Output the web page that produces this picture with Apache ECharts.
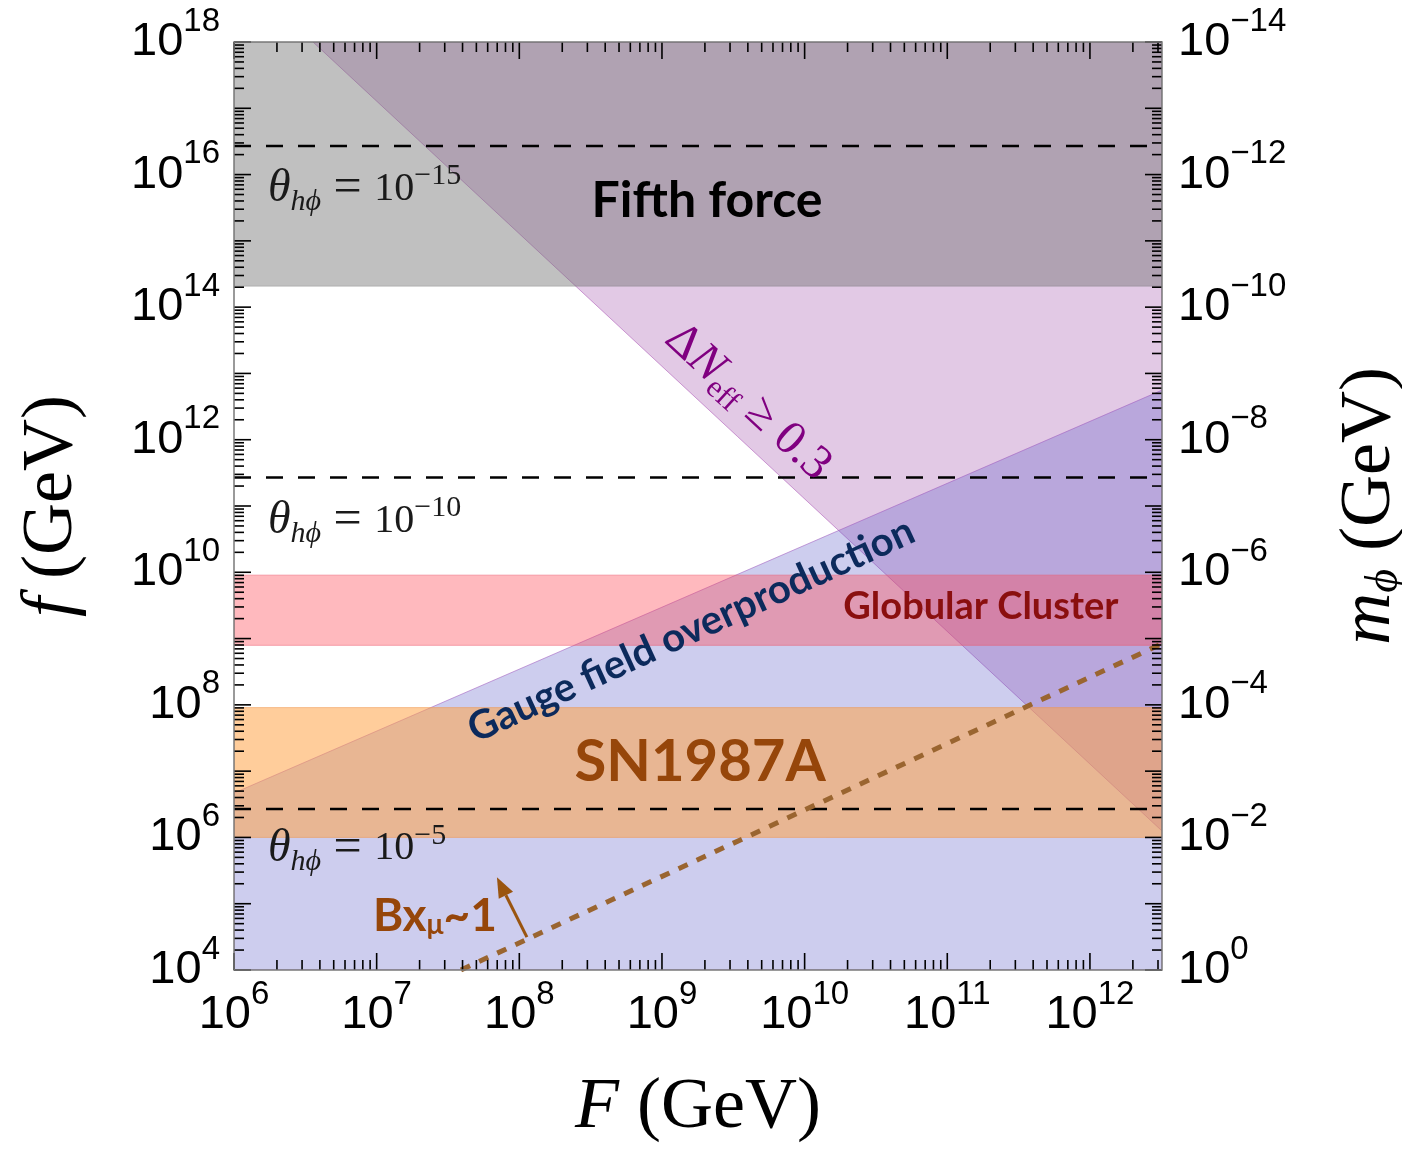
<!DOCTYPE html>
<html lang="en">
<head>
    <meta charset="UTF-8">
    <title>f vs F bounds</title>
    <script src="https://cdn.jsdelivr.net/npm/echarts@6/dist/echarts.min.js"></script>
    <style>
        html, body { margin: 0; padding: 0; background: #fff; }
        #main { width: 1402px; height: 1149px; }
    </style>
</head>
<body>
<div id="main"></div>
<script type="text/javascript">
    // axis ranges
    var xMin = 1e6, xMax = 3.2e12;      // F (GeV)
    var yMin = 1e4, yMax = 1e18;        // f (GeV)
    var mMin = 1e-14, mMax = 1;         // m_phi (GeV), right axis

    // tick labels
    var xLabelValues = [1e6, 1e7, 1e8, 1e9, 1e10, 1e11, 1e12];
    var fLabelValues = [1e4, 1e6, 1e8, 1e10, 1e12, 1e14, 1e16, 1e18];
    var mLabelValues = [1, 1e-2, 1e-4, 1e-6, 1e-8, 1e-10, 1e-12, 1e-14];

    // horizontal bands in f
    var fifthForceBand = [2.07e14, 1e18];
    var globularBand = [7.9e8, 9.06e9];
    var sn1987aBand = [1e6, 9.1e7];

    // slanted edges (F values, f values)
    var neffEdgeF = [3.58e6, 3.2e12];
    var neffEdgef = [1e18, 1.25e6];
    var gaugeEdgeF = [1e6, 3.2e12];
    var gaugeEdgef = [4.68e6, 5.6e12];
    var bxEdgeF = [3.9e7, 3.2e12];
    var bxEdgef = [1e4, 8.4e8];

    // mixing-angle contours
    var thetaLines = [2.69e16, 2.69e11, 2.69e6];
    var thetaExps = ['−15', '−10', '−5'];

    // arrow next to B x_mu ~ 1 (tail, head)
    var arrowF = [1.13e8, 6.97e7];
    var arrowf = [3.13e4, 2.5e5];

    function log10(v) { return Math.log(v) / Math.LN10; }

    function powLabel(v) {
        var e = Math.round(log10(v));
        var s = e < 0 ? '−' + (-e) : String(e);
        return '{b|10}{s|' + s + '}';
    }

    // keep end labels just inside the axis extent (float round-off)
    function inside(vals, lo, hi) {
        return vals.map(function (v) {
            if (v >= hi) return hi * (1 - 1e-7);
            if (v <= lo) return lo * (1 + 1e-7);
            return v;
        });
    }

    var tickRich = {
        b: { fontFamily: 'Liberation Sans', fontSize: 47, lineHeight: 74, verticalAlign: 'middle', color: '#000' },
        s: { fontFamily: 'Liberation Sans', fontSize: 33, lineHeight: 33, verticalAlign: 'top', color: '#000' }
    };

    var serif = 'Liberation Serif';
    var nameRich = {
        i: { fontFamily: serif, fontStyle: 'italic', fontSize: 72, lineHeight: 76, verticalAlign: 'middle', color: '#000' },
        r: { fontFamily: serif, fontSize: 72, lineHeight: 76, verticalAlign: 'middle', color: '#000' },
        s: { fontFamily: serif, fontStyle: 'italic', fontSize: 46, lineHeight: 52, verticalAlign: 'bottom', color: '#000' }
    };

    // log ticks: k * 10^n
    function logTicks(lo, hi) {
        var out = [];
        for (var n = Math.floor(log10(lo)); n <= Math.ceil(log10(hi)); n++) {
            for (var k = 1; k <= 9; k++) {
                var v = k * Math.pow(10, n);
                if (v >= lo * 0.999 && v <= hi * 1.001) out.push([v, k === 1 ? 1 : 0]);
            }
        }
        return out;
    }

    var tickData = [];
    logTicks(yMin, yMax).forEach(function (t) { tickData.push([xMin, t[0], 0, t[1]]); });
    logTicks(xMin, xMax).forEach(function (t) { tickData.push([t[0], yMin, 1, t[1]]); });
    tickData.push([xMin, yMin, 2, 0]);

    function band(b) {
        return [[xMin, b[0]], [xMax, b[0]], [xMax, b[1]], [xMin, b[1]]];
    }

    var regions = [
        { name: 'neff', pts: [[neffEdgeF[0], neffEdgef[0]], [neffEdgeF[1], neffEdgef[1]], [xMax, yMax]],
          fill: 'rgba(150,60,160,0.28)', stroke: 'rgba(170,80,180,0.55)' },
        { name: 'fifth', pts: band(fifthForceBand),
          fill: 'rgba(115,115,115,0.45)', stroke: 'rgba(115,115,115,0.3)' },
        { name: 'gauge', pts: [[gaugeEdgeF[0], gaugeEdgef[0]], [gaugeEdgeF[1], gaugeEdgef[1]], [xMax, yMin], [xMin, yMin]],
          fill: 'rgba(90,90,200,0.3)', stroke: 'rgba(160,90,190,0.55)' },
        { name: 'globular', pts: band(globularBand),
          fill: 'rgba(255,70,85,0.38)', stroke: 'rgba(235,90,110,0.5)' },
        { name: 'sn1987a', pts: band(sn1987aBand),
          fill: 'rgba(255,162,70,0.54)', stroke: 'rgba(240,150,80,0.5)' }
    ];

    var purple = '#800080';
    var annotations = [
        { at: [2.07e9, 4.07e15], text: 'Fifth force',
          font: { fontFamily: 'Lato', fontWeight: 'bold', fontSize: 50, fill: '#000' } },
        { at: [1.85e9, 1.37e7], text: 'SN1987A',
          font: { fontFamily: 'Lato', fontWeight: 'bold', fontSize: 58, fill: '#96460a' } },
        { at: [1.72e11, 2.98e9], text: 'Globular Cluster',
          font: { fontFamily: 'Lato', fontWeight: 'bold', fontSize: 38, fill: '#8a0f0f' } },
        { at: [1.6e9, 1.34e9], rot: 0.43, text: 'Gauge field overproduction',
          font: { fontFamily: 'Lato', fontWeight: 'bold', fontSize: 40, fill: '#0c2a5c' } },
        { at: [4.0e9, 3.68e12], rot: -0.745, text: '{r|Δ}{i|N}{s|eff}{r| ≥ 0.3}',
          rich: {
              r: { fontFamily: serif, fontSize: 48, lineHeight: 56, verticalAlign: 'middle', fill: purple },
              i: { fontFamily: serif, fontStyle: 'italic', fontSize: 48, lineHeight: 56, verticalAlign: 'middle', fill: purple },
              s: { fontFamily: serif, fontSize: 31, lineHeight: 36, verticalAlign: 'bottom', fill: purple }
          } },
        { at: [2.56e7, 6.5e4], text: '{b|Bx}{u|μ}{b|~1}',
          rich: {
              b: { fontFamily: 'Lato', fontWeight: 'bold', fontSize: 46, lineHeight: 46, verticalAlign: 'middle', fill: '#96460a' },
              u: { fontFamily: 'Lato', fontWeight: 'bold', fontSize: 28, lineHeight: 34, verticalAlign: 'bottom', fill: '#96460a' }
          } }
    ];

    var ink = '#1a1a1a';
    var thetaRich = {
        t: { fontFamily: serif, fontStyle: 'italic', fontSize: 46, lineHeight: 56, verticalAlign: 'middle', fill: ink },
        s: { fontFamily: serif, fontStyle: 'italic', fontSize: 30, lineHeight: 34, verticalAlign: 'bottom', fill: ink },
        e: { fontFamily: serif, fontSize: 50, lineHeight: 56, verticalAlign: 'middle', fill: ink },
        r: { fontFamily: serif, fontSize: 40, lineHeight: 56, verticalAlign: 'middle', fill: ink },
        p: { fontFamily: serif, fontSize: 30, lineHeight: 34, verticalAlign: 'top', fill: ink }
    };
    var thetaLabelF = 1.73e6;
    var thetaLabelf = [6.0e15, 5.9e10, 6.7e5];
    thetaLabelf.forEach(function (fv, i) {
        annotations.push({ at: [thetaLabelF, fv], align: 'left',
            text: '{t|θ}{s|hϕ}{e| = }{r|10}{p|' + thetaExps[i] + '}', rich: thetaRich });
    });

    var series = [];

    regions.forEach(function (r, i) {
        series.push({
            type: 'custom', name: r.name, silent: true, clip: true, z: 2 + i * 0.01,
            data: [r.pts[0]],
            renderItem: function (params, api) {
                return {
                    type: 'polygon',
                    shape: { points: r.pts.map(function (p) { return api.coord(p); }) },
                    style: { fill: r.fill, stroke: r.stroke, lineWidth: 1 }
                };
            }
        });
    });

    thetaLines.forEach(function (v) {
        series.push({
            type: 'line', silent: true, symbol: 'none', z: 5,
            data: [[xMin, v], [xMax, v]],
            lineStyle: { color: '#000', width: 2.5, type: [17, 15] }
        });
    });

    series.push({
        type: 'line', silent: true, symbol: 'none', z: 5,
        data: [[bxEdgeF[0], bxEdgef[0]], [bxEdgeF[1], bxEdgef[1]]],
        lineStyle: { color: '#9a6530', width: 5, type: [10, 10] }
    });

    // arrow
    series.push({
        type: 'custom', silent: true, z: 6, clip: false,
        data: [[arrowF[0], arrowf[0]]],
        renderItem: function (params, api) {
            var p0 = api.coord([arrowF[0], arrowf[0]]);
            var p1 = api.coord([arrowF[1], arrowf[1]]);
            var dx = p1[0] - p0[0], dy = p1[1] - p0[1];
            var L = Math.sqrt(dx * dx + dy * dy);
            var ux = dx / L, uy = dy / L, nx = -uy, ny = ux;
            var hl = 20, hw = 8;
            var bx = p1[0] - ux * hl, by = p1[1] - uy * hl;
            return {
                type: 'group',
                children: [
                    { type: 'line', shape: { x1: p0[0], y1: p0[1], x2: bx, y2: by },
                      style: { stroke: '#9a5510', lineWidth: 3 } },
                    { type: 'polygon', shape: { points: [p1, [bx + nx * hw, by + ny * hw], [bx - nx * hw, by - ny * hw]] },
                      style: { fill: '#9a5510' } }
                ]
            };
        }
    });

    // text annotations
    series.push({
        type: 'custom', silent: true, z: 8, clip: false,
        data: annotations.map(function (a) { return a.at; }),
        renderItem: function (params, api) {
            var a = annotations[params.dataIndex];
            var p = api.coord(a.at);
            var st = { text: a.text, align: a.align || 'center', verticalAlign: 'middle' };
            if (a.rich) st.rich = a.rich;
            if (a.font) { for (var k in a.font) st[k] = a.font[k]; }
            return { type: 'text', x: p[0], y: p[1], rotation: a.rot || 0, style: st };
        }
    });

    // frame and inward ticks on all four sides
    series.push({
        type: 'custom', silent: true, z: 10, clip: false,
        data: tickData,
        renderItem: function (params, api) {
            var cs = params.coordSys;
            var kind = api.value(2);
            var tk = { stroke: '#000', lineWidth: 1.6 };
            if (kind === 2) {
                return { type: 'rect', shape: { x: cs.x, y: cs.y, width: cs.width, height: cs.height },
                         style: { fill: null, stroke: '#7a7a7a', lineWidth: 1.5 } };
            }
            var len = api.value(3) ? 17 : 10;
            var p = api.coord([api.value(0), api.value(1)]);
            if (kind === 0) {
                return { type: 'group', children: [
                    { type: 'line', shape: { x1: cs.x, y1: p[1], x2: cs.x + len, y2: p[1] }, style: tk },
                    { type: 'line', shape: { x1: cs.x + cs.width, y1: p[1], x2: cs.x + cs.width - len, y2: p[1] }, style: tk }
                ] };
            }
            return { type: 'group', children: [
                { type: 'line', shape: { x1: p[0], y1: cs.y + cs.height, x2: p[0], y2: cs.y + cs.height - len }, style: tk },
                { type: 'line', shape: { x1: p[0], y1: cs.y, x2: p[0], y2: cs.y + len }, style: tk }
            ] };
        }
    });

    var myChart = echarts.init(document.getElementById('main'));
    var option = {
        animation: false,
        backgroundColor: '#fff',
        grid: { left: 234, right: 240, top: 42, bottom: 179, containLabel: false, outerBoundsMode: 'none' },
        xAxis: [{
            type: 'log', logBase: 10, min: xMin, max: xMax, position: 'bottom',
            axisLine: { show: false }, axisTick: { show: false }, splitLine: { show: false },
            axisLabel: { customValues: inside(xLabelValues, xMin, xMax), margin: 8, formatter: powLabel, rich: tickRich,
                         showMinLabel: true, showMaxLabel: true, hideOverlap: false },
            name: '{i|F}{r| (GeV)}', nameLocation: 'middle', nameGap: 100,
            nameTextStyle: { rich: nameRich }
        }],
        yAxis: [{
            type: 'log', logBase: 10, min: yMin, max: yMax, position: 'left',
            axisLine: { show: false }, axisTick: { show: false }, splitLine: { show: false },
            axisLabel: { customValues: inside(fLabelValues, yMin, yMax), margin: 14, formatter: powLabel, rich: tickRich,
                         showMinLabel: true, showMaxLabel: true, hideOverlap: false },
            name: '{i|f}{r| (GeV)}', nameLocation: 'middle', nameRotate: 90, nameGap: 144,
            nameTextStyle: { rich: nameRich }
        }, {
            type: 'log', logBase: 10, min: mMin, max: mMax, inverse: true, position: 'right',
            axisLine: { show: false }, axisTick: { show: false }, splitLine: { show: false },
            axisLabel: { customValues: inside(mLabelValues, mMin, mMax), margin: 16, formatter: powLabel, rich: tickRich,
                         showMinLabel: true, showMaxLabel: true, hideOverlap: false },
            name: '{i|m}{s|ϕ}{r| (GeV)}', nameLocation: 'middle', nameRotate: 90, nameGap: 170,
            nameTextStyle: { rich: nameRich }
        }],
        series: series
    };
    myChart.setOption(option);
</script>
</body>
</html>
